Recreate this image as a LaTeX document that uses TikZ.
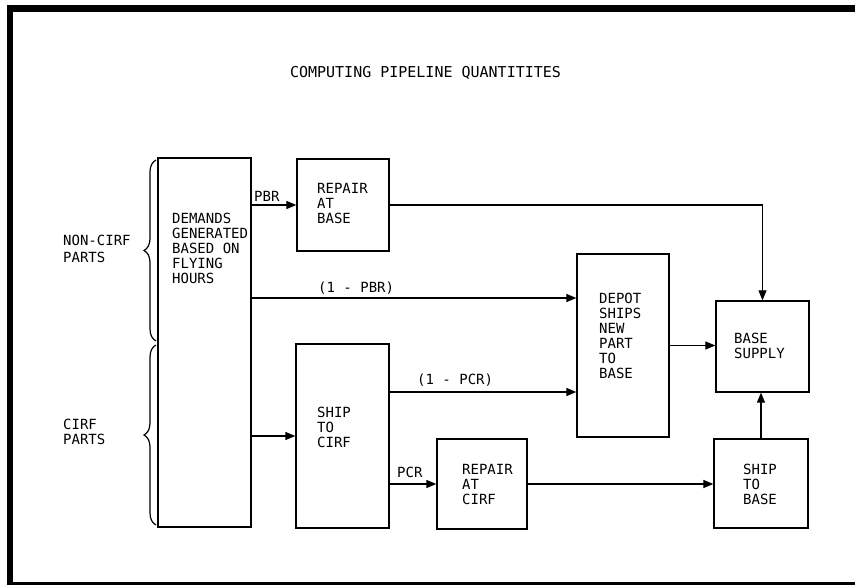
\documentclass[tikz,border=0pt]{standalone}
\usepackage{fontspec}
\setmonofont{DejaVu Sans Mono}
\usetikzlibrary{arrows.meta,fit,decorations.pathreplacing}
\begin{document}
\begin{tikzpicture}[x=1pt,y=-1pt,
  box/.style={draw, line width=1.3pt, inner sep=0pt},
  lbl/.style={font=\ttfamily\fontsize{14}{15}\selectfont, inner sep=0pt, anchor=west, align=left},
  arr/.style={line width=1.2pt, -{Triangle[length=10pt,width=8pt]}},
  brc/.style={line width=1.2pt, decorate, decoration={brace, amplitude=12pt}},
  frm/.style={line width=#1}
]
\useasboundingbox (0,0) rectangle (855,586);
% frame
\draw[frm=7pt] (7,8.5) -- (855,8.5);
\draw[frm=6pt] (10,5) -- (10,585);
\draw[frm=3pt] (7,583.5) -- (855,583.5);

% title
\node[font=\ttfamily\fontsize{15}{18}\selectfont, inner sep=0pt] (title) at (425.5,73) {COMPUTING PIPELINE QUANTITITES};

% boxes
\node[box, fit={(158,158) (251,527)}] (dem) {};
\node[box, fit={(297,159) (389,251)}] (rab) {};
\node[box, fit={(296,344) (389,528)}] (sc) {};
\node[box, fit={(577,254) (669,437)}] (depot) {};
\node[box, fit={(716,301) (809,392)}] (bs) {};
\node[box, fit={(437,439) (527,529)}] (rac) {};
\node[box, fit={(714,439) (808,528)}] (stb) {};

% box texts
\node[lbl] (demt) at (172,248.5) {DEMANDS\\GENERATED\\BASED ON\\FLYING\\HOURS};
\node[lbl] (rabt) at (317,203) {REPAIR\\AT\\BASE};
\node[lbl] (depott) at (599,335.5) {DEPOT\\SHIPS\\NEW\\PART\\TO\\BASE};
\node[lbl] (bst) at (734,345.5) {BASE\\SUPPLY};
\node[lbl] (sct) at (317,427) {SHIP\\TO\\CIRF};
\node[lbl] (ract) at (462,484.5) {REPAIR\\AT\\CIRF};
\node[lbl] (stbt) at (743,484.5) {SHIP\\TO\\BASE};

% side labels and braces
\node[lbl, font=\ttfamily\fontsize{14}{17}\selectfont] (nc) at (63,248.5) {NON-CIRF\\PARTS};
\node[lbl] (cp) at (63,432) {CIRF\\PARTS};
\draw[brc] (156,341) -- (156,160);
\draw[brc] (156,525) -- (156,345);

% connectors
\draw[arr] (dem.east |- rab.west) -- (rab.west);
\draw[arr] (dem.east |- 0,298) -- (depot.west |- 0,298);
\draw[arr] (dem.east |- sc.west) -- (sc.west);
\draw[arr] (sc.east |- 0,392) -- (depot.west |- 0,392);
\draw[arr] (sc.east |- rac.west) -- (rac.west);
\draw[arr] (rac.east) -- (rac.east -| stb.west);
\draw[arr] (depot.east) -- (depot.east -| bs.west);
\draw[arr] (stb.north) -- (stb.north |- bs.south);
\draw[arr] (rab.east) -| (bs.north);

% connector labels
\node[lbl] (pbr) at (254,196) {PBR};
\node[lbl] (pbr1) at (318,288) {(1 - PBR)};
\node[lbl] (pcr1) at (417,380) {(1 - PCR)};
\node[lbl] (pcr) at (397,472) {PCR};
\end{tikzpicture}
\end{document}
